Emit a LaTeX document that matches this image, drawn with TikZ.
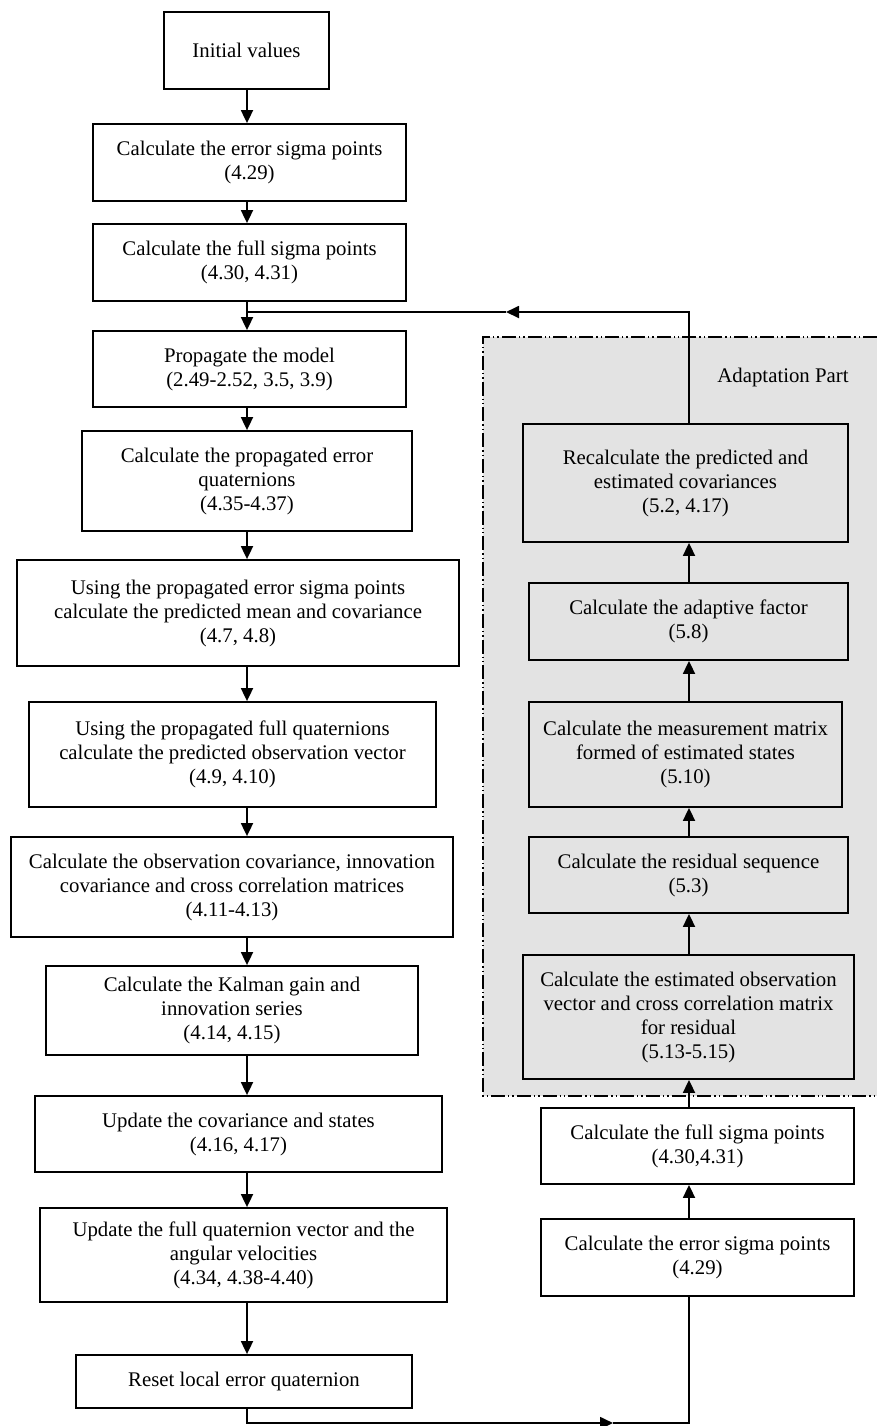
\documentclass[tikz,border=0pt]{standalone}
\usepackage{fontspec}
\setmainfont{Liberation Serif}
\usetikzlibrary{arrows.meta}

\begin{document}
\begin{tikzpicture}[
    x=0.5pt, y=-0.5pt,
    font=\fontsize{10.4}{12}\selectfont,
    every node/.style={inner sep=0pt},
    stepbox/.style 2 args={draw, line width=0.9pt, align=center,
        minimum width=#1, minimum height=#2},
    arr/.style={line width=0.9pt, -{Triangle[length=6.5pt,width=6pt]}},
    link/.style={line width=0.9pt},
    adframe/.style={line width=0.8pt,
        dash pattern=on 7pt off 1.5pt on 0.7pt off 1.5pt on 0.7pt off 1.5pt},
]
\useasboundingbox (0,0) rectangle (877,1426);

% ---- spine x-coordinates ----
\def\xL{247}      % left column arrows
\def\xR{689}      % right column arrows
\coordinate (spL) at (\xL,0);
\coordinate (spR) at (\xR,0);

% ---- adaptation region (drawn first, under the boxes) ----
\fill[black!11] (483,337) rectangle (877,1096);
\draw[adframe] (877,337) -- (483,337) -- (483,1096) -- (877,1096);
\node (adlabel) at (783,377) {Adaptation Part};

% ---- left column ----
\node[stepbox={82.5pt}{38.5pt}] (init) at (246.5,50.5) {Initial values};
\node[stepbox={156.5pt}{38.5pt}] (errsig) at (249.5,162.5)
    {Calculate the error sigma points\\(4.29)};
\node[stepbox={156.5pt}{38.5pt}] (fullsig) at (249.5,262.5)
    {Calculate the full sigma points\\(4.30, 4.31)};
\node[stepbox={156.5pt}{38pt}] (prop) at (249.5,369)
    {Propagate the model\\(2.49-2.52, 3.5, 3.9)};
\node[stepbox={165pt}{50pt}] (errq) at (247,481)
    {Calculate the propagated error\\quaternions\\(4.35-4.37)};
\node[stepbox={221pt}{53pt}] (predmean) at (238,613)
    {Using the propagated error sigma points\\calculate the predicted mean and covariance\\(4.7, 4.8)};
\node[stepbox={203.5pt}{52.5pt}] (predobs) at (232.5,754.5)
    {Using the propagated full quaternions\\calculate the predicted observation vector\\(4.9, 4.10)};
\node[stepbox={221pt}{50pt}] (obscov) at (232,887)
    {Calculate the observation covariance, innovation\\covariance and cross correlation matrices\\(4.11-4.13)};
\node[stepbox={186pt}{44.5pt}] (gain) at (232,1010.5)
    {Calculate the Kalman gain and\\innovation series\\(4.14, 4.15)};
\node[stepbox={203.5pt}{38pt}] (update) at (238.5,1134)
    {Update the covariance and states\\(4.16, 4.17)};
\node[stepbox={203.5pt}{47pt}] (quat) at (243.5,1255)
    {Update the full quaternion vector and the\\angular velocities\\(4.34, 4.38-4.40)};
\node[stepbox={168pt}{26.5pt}] (reset) at (244,1381.5)
    {Reset local error quaternion};

% ---- right column ----
\node[stepbox={162.5pt}{59pt}] (recalc) at (685.5,483)
    {Recalculate the predicted and\\estimated covariances\\(5.2, 4.17)};
\node[stepbox={159.5pt}{38.5pt}] (factor) at (688.5,621.5)
    {Calculate the adaptive factor\\(5.8)};
\node[stepbox={156.5pt}{52.5pt}] (meas) at (685.5,754.5)
    {Calculate the measurement matrix\\formed of estimated states\\(5.10)};
\node[stepbox={159.5pt}{38pt}] (resid) at (688.5,875)
    {Calculate the residual sequence\\(5.3)};
\node[stepbox={165.5pt}{62pt}] (estobs) at (688.5,1017)
    {Calculate the estimated observation\\vector and cross correlation matrix\\for residual\\(5.13-5.15)};
\node[stepbox={156.5pt}{38pt}] (fullsigR) at (697.5,1146)
    {Calculate the full sigma points\\(4.30,4.31)};
\node[stepbox={156.5pt}{38.5pt}] (errsigR) at (697.5,1257.5)
    {Calculate the error sigma points\\(4.29)};

% ---- left column arrows ----
\draw[arr] (init.south -| spL) -- (errsig.north -| spL);
\draw[arr] (errsig.south -| spL) -- (fullsig.north -| spL);
\draw[arr] (fullsig.south -| spL) -- (prop.north -| spL);
\draw[arr] (prop.south -| spL) -- (errq.north -| spL);
\draw[arr] (errq.south -| spL) -- (predmean.north -| spL);
\draw[arr] (predmean.south -| spL) -- (predobs.north -| spL);
\draw[arr] (predobs.south -| spL) -- (obscov.north -| spL);
\draw[arr] (obscov.south -| spL) -- (gain.north -| spL);
\draw[arr] (gain.south -| spL) -- (update.north -| spL);
\draw[arr] (update.south -| spL) -- (quat.north -| spL);
\draw[arr] (quat.south -| spL) -- (reset.north -| spL);

% ---- right column arrows (upwards) ----
\draw[arr] (errsigR.north -| spR) -- (fullsigR.south -| spR);
\draw[arr] (fullsigR.north -| spR) -- (estobs.south -| spR);
\draw[arr] (estobs.north -| spR) -- (resid.south -| spR);
\draw[arr] (resid.north -| spR) -- (meas.south -| spR);
\draw[arr] (meas.north -| spR) -- (factor.south -| spR);
\draw[arr] (factor.north -| spR) -- (recalc.south -| spR);

% ---- feedback into the model step ----
\coordinate (fbmid) at (506,312);
\coordinate (fbjoin) at (\xL,312);
\draw[arr] (recalc.north -| spR) |- (fbmid);
\draw[link] (fbmid) -- (fbjoin);

% ---- loop from reset to the adaptation column ----
\coordinate (lpL) at (\xL,1423);
\coordinate (lpmid) at (613,1423);
\draw[arr] (reset.south -| spL) -- (lpL) -- (lpmid);
\draw[link] (lpmid) -| (errsigR.south -| spR);

\end{tikzpicture}
\end{document}
